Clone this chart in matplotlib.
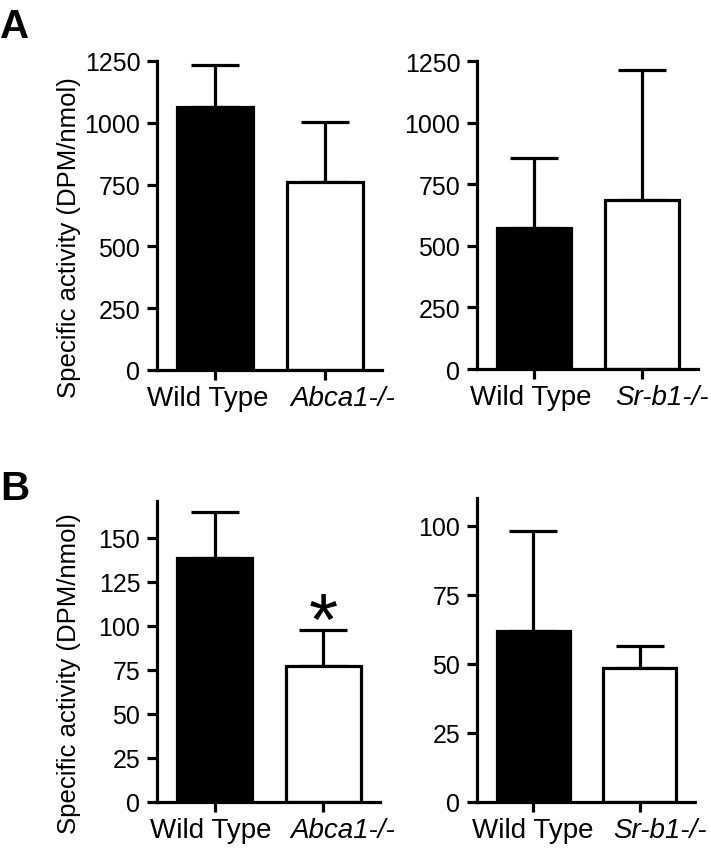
import numpy as np
import matplotlib
matplotlib.use('Agg')
import matplotlib.pyplot as plt

plt.rcParams['font.family'] = ['Liberation Sans', 'DejaVu Sans']
plt.rcParams['font.size'] = 18

# Data (mean and upper error)
groups_abca1 = ['Wild Type', 'Abca1-/-']
groups_srb1 = ['Wild Type', 'Sr-b1-/-']

a_abca1_mean = [1064, 760]
a_abca1_err = [170, 243]
a_srb1_mean = [572, 686]
a_srb1_err = [284, 527]

b_abca1_mean = [138.5, 77.5]
b_abca1_err = [26, 20]
b_srb1_mean = [62, 48.5]
b_srb1_err = [36, 8]

a_yticks = [0, 250, 500, 750, 1000, 1250]
b_abca1_yticks = [0, 25, 50, 75, 100, 125, 150]
b_srb1_yticks = [0, 25, 50, 75, 100]

W, H = 711, 854
fig = plt.figure(figsize=(W / 100, H / 100), dpi=100)


def px_axes(x0, x1, y0, y1):
    # pixel box (top-left origin) -> figure axes
    return fig.add_axes([x0 / W, 1 - y1 / H, (x1 - x0) / W, (y1 - y0) / H])


def bar_panel(ax, labels, means, errs, ylim, yticks, label_shift=(-4, 19)):
    x = np.arange(len(means))
    lw = 2.3
    ax.errorbar(x, means, yerr=[np.zeros(len(errs)), errs], fmt='none',
                ecolor='black', elinewidth=lw, capsize=17, capthick=lw, zorder=1)
    ax.bar(x, means, width=0.69, color=['black', 'white'], edgecolor='black',
           linewidth=lw, zorder=2)
    ax.set_xlim(-0.53, 1.52)
    ax.set_ylim(*ylim)
    ax.set_yticks(yticks)
    ax.set_xticks(x)
    ax.set_xticklabels([])
    # group labels sit a little apart from their ticks in the original
    for i, (lab, dx) in enumerate(zip(labels, label_shift)):
        ax.annotate(lab, xy=(x[i], 0), xycoords=('data', 'axes fraction'),
                    xytext=(dx * 0.72, -11), textcoords='offset points',
                    ha='center', va='top', fontsize=20,
                    style='italic' if i == 1 else 'normal')
    for s in ['top', 'right']:
        ax.spines[s].set_visible(False)
    for s in ['left', 'bottom']:
        ax.spines[s].set_linewidth(lw)
    ax.tick_params(direction='out', length=7, width=lw, labelsize=18, pad=5)
    ax.patch.set_alpha(0)


ax1 = px_axes(157, 382, 62, 371)
bar_panel(ax1, groups_abca1, a_abca1_mean, a_abca1_err, (0, 1250), a_yticks, (-7, 18))
ax2 = px_axes(477, 698, 62, 370)
bar_panel(ax2, groups_srb1, a_srb1_mean, a_srb1_err, (0, 1250), a_yticks, (-3, 20))
ax3 = px_axes(157, 380, 502, 803)
bar_panel(ax3, groups_abca1, b_abca1_mean, b_abca1_err, (0, 171), b_abca1_yticks, (-4, 19))
ax4 = px_axes(477, 695, 499, 803)
bar_panel(ax4, groups_srb1, b_srb1_mean, b_srb1_err, (0, 110), b_srb1_yticks, (-1, 20))

# significance marker
ax3.text(1, b_abca1_mean[1] + b_abca1_err[1] - 16, '*', ha='center', va='bottom',
         fontsize=54)

ylabel = 'Specific activity (DPM/nmol)'
fig.text(69 / W, 1 - 238 / H, ylabel, rotation=90, ha='center', va='center', fontsize=18.5)
fig.text(69 / W, 1 - 674 / H, ylabel, rotation=90, ha='center', va='center', fontsize=18.5)

fig.text(0 / W, 1 - 8 / H, 'A', fontsize=29, fontweight='bold', ha='left', va='top')
fig.text(0 / W, 1 - 470 / H, 'B', fontsize=29, fontweight='bold', ha='left', va='top')

fig.savefig('out.png', dpi=100)
